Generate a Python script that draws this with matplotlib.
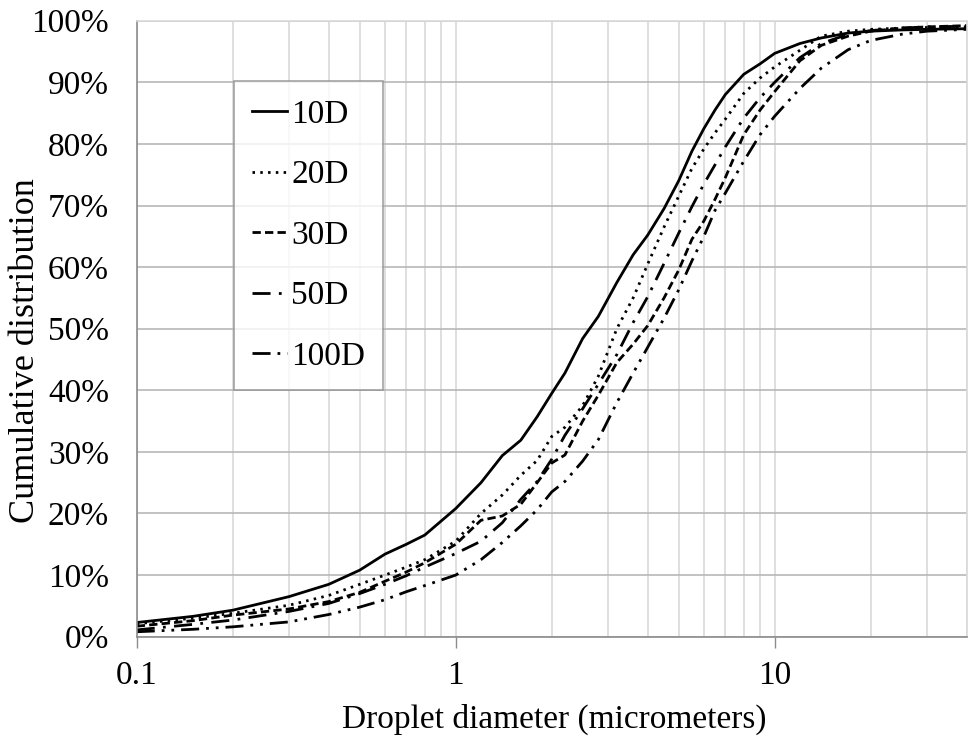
import matplotlib
matplotlib.use("Agg")
import matplotlib.pyplot as plt
from matplotlib.ticker import LogLocator, FixedLocator, FuncFormatter, NullFormatter

plt.rcParams['font.family'] = ['Liberation Serif', 'DejaVu Serif']

# Droplet diameter grid (micrometers)
diameter = [0.1, 0.15, 0.2, 0.3, 0.4, 0.5, 0.6, 0.7, 0.8, 1.0, 1.2, 1.4, 1.6, 1.8,
            2.0, 2.2, 2.5, 2.8, 3.2, 3.6, 4.0, 4.5, 5.0, 5.5, 6.0, 6.5, 7.0, 8.0,
            9.0, 10, 12, 14, 17, 20, 25, 30, 40]

# Cumulative distribution (%)
cum_10D = [2.3, 3.3, 4.3, 6.5, 8.5, 10.8, 13.4, 15.0, 16.5, 20.8, 25.0, 29.4, 31.9, 35.7,
           39.5, 42.8, 48.4, 52.0, 57.5, 62.0, 65.2, 69.5, 74.0, 78.8, 82.5, 85.5, 88.0, 91.3,
           93.0, 94.7, 96.3, 97.2, 98.0, 98.3, 98.5, 98.6, 98.7]
cum_20D = [2.1, 3.0, 3.8, 5.1, 6.7, 8.5, 10.0, 11.3, 12.5, 15.5, 20.0, 23.0, 26.2, 28.6,
           32.5, 34.0, 37.5, 42.3, 50.0, 55.0, 60.5, 66.5, 71.5, 76.0, 79.2, 81.8, 84.0, 88.2,
           90.7, 92.5, 95.2, 97.5, 98.3, 98.6, 98.8, 98.9, 99.0]
cum_30D = [1.7, 2.6, 3.5, 4.5, 5.7, 7.2, 9.0, 10.5, 12.0, 15.0, 18.9, 19.6, 21.5, 25.0,
           28.2, 29.5, 35.0, 39.2, 44.5, 47.5, 50.5, 55.0, 59.5, 64.5, 67.5, 71.0, 74.5, 81.5,
           85.5, 88.5, 93.5, 96.0, 97.5, 98.3, 98.8, 99.0, 99.2]
cum_50D = [1.1, 2.0, 2.7, 4.1, 5.4, 7.0, 8.5, 9.9, 11.3, 13.5, 15.5, 18.5, 22.3, 25.2,
           28.8, 32.7, 37.0, 41.0, 45.8, 51.0, 55.2, 60.6, 65.5, 69.8, 73.5, 76.6, 79.5, 84.2,
           87.5, 90.0, 94.0, 96.3, 97.8, 98.4, 98.8, 99.0, 99.1]
cum_100D = [0.8, 1.2, 1.6, 2.4, 3.6, 4.8, 6.0, 7.3, 8.3, 10.0, 12.5, 15.3, 18.0, 20.6,
            23.5, 25.2, 28.5, 32.0, 38.0, 42.8, 47.0, 51.7, 56.3, 61.0, 65.0, 69.2, 72.0, 77.2,
            81.5, 84.5, 89.0, 92.3, 95.3, 96.8, 97.8, 98.3, 98.6]

series_labels = ["10D", "20D", "30D", "50D", "100D"]
series_values = [cum_10D, cum_20D, cum_30D, cum_50D, cum_100D]
dash_styles = ["-", (0, (0.9, 1.9)), (0, (3.0, 1.5)), (0, (6.5, 3.0, 1.0, 3.0)),
               (0, (6.5, 2.5, 1.0, 2.5, 1.0, 2.5))]

fig = plt.figure(figsize=(9.71, 7.37), dpi=100)
ax = fig.add_axes([0.1408, 0.1361, 0.8548, 0.8358])

for lab, vals, ls in zip(series_labels, series_values, dash_styles):
    ax.plot(diameter, [v / 100 for v in vals], color='black', lw=2.0, linestyle=ls, label=lab)

ax.set_xscale('log')
ax.set_xlim(0.1, 40)
ax.set_ylim(0, 1.0)

ax.xaxis.set_major_locator(FixedLocator([0.1, 1, 10]))
ax.xaxis.set_major_formatter(FuncFormatter(lambda v, p: {0.1: "0.1", 1: "1", 10: "10"}.get(round(v, 3), "")))
ax.xaxis.set_minor_locator(LogLocator(base=10, subs=[2, 3, 4, 5, 6, 7, 8, 9], numticks=20))
ax.xaxis.set_minor_formatter(NullFormatter())
ax.set_yticks([i / 10 for i in range(11)])
ax.yaxis.set_major_formatter(FuncFormatter(lambda v, p: f"{int(round(v * 100))}%"))

ax.grid(True, which='major', axis='y', color='#b8b8b8', lw=1.2)
ax.grid(True, which='both', axis='x', color='#d9d9d9', lw=1.2)
ax.set_axisbelow(True)

for s in ['top', 'right']:
    ax.spines[s].set_color('#d9d9d9')
    ax.spines[s].set_linewidth(1.2)
for s in ['left', 'bottom']:
    ax.spines[s].set_color('#8c8c8c')
    ax.spines[s].set_linewidth(1.2)

ax.tick_params(axis='x', which='major', length=8, width=1.0, color='#8c8c8c', labelsize=24, pad=9)
ax.tick_params(axis='x', which='minor', length=0)
ax.tick_params(axis='y', which='major', length=0, labelsize=24, pad=20)

ax.set_xlabel("Droplet diameter (micrometers)", fontsize=24)
ax.set_ylabel("Cumulative distribution", fontsize=26)
ax.xaxis.set_label_coords(0.503, -0.134)
ax.yaxis.set_label_coords(-0.134, 0.465)
ax.xaxis.label.set_va('center')
ax.yaxis.label.set_va('center')

leg = ax.legend(loc='upper left', bbox_to_anchor=(0.117, 0.902), borderaxespad=0,
                fontsize=24, frameon=True, fancybox=False, edgecolor='#8c8c8c',
                handlelength=1.05, handletextpad=0.12, labelspacing=0.9,
                borderpad=0.55)
leg.get_frame().set_linewidth(1.2)

fig.savefig("out.png", dpi=100)
